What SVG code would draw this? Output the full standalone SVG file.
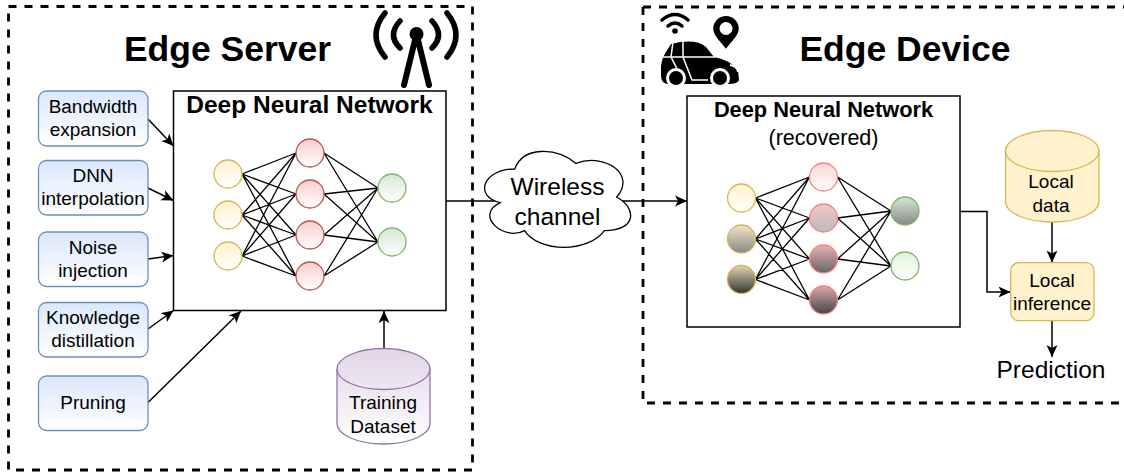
<svg xmlns="http://www.w3.org/2000/svg" width="1124" height="472" viewBox="0 0 1124 472">
<style>
text{font-family:"Liberation Sans",Arial,sans-serif;fill:#000;text-anchor:middle}
.t18{font-size:19px}.t24{font-size:24.500px}.h{font-size:35.500px;font-weight:bold}
.frame{fill:none;stroke:#000;stroke-width:2.800;stroke-dasharray:8 8}
.dnn{fill:#fff;stroke:#000;stroke-width:1.500}
.blue{fill:url(#gB);stroke:#6c8ebf;stroke-width:1.300}
.y{fill:url(#gY);stroke:#d6b656;stroke-width:1.300}
.r{fill:url(#gR);stroke:#b85450;stroke-width:1.300}
.g{fill:url(#gG);stroke:#82b366;stroke-width:1.300}
.e{fill:none;stroke:#000;stroke-width:1.300}
.c{fill:none;stroke:#000;stroke-width:1.500}
.a{marker-end:url(#arrow)}
.rr{stroke:#ff8080;stroke-width:1.300}
.yy{stroke:#d6b656;stroke-width:1.300}
.gg{stroke:#82b366;stroke-width:1.300}
</style>
<defs>
<marker id="arrow" markerUnits="userSpaceOnUse" markerWidth="13" markerHeight="12" refX="12" refY="6" orient="auto"><path d="M12 6L0 .5L3 6L0 11.500Z" fill="#000"/></marker>
<linearGradient id="gB" x1="0" y1="0" x2="0" y2="1"><stop offset="0" stop-color="#dae8fc"/><stop offset="1" stop-color="#fff"/></linearGradient>
<linearGradient id="gY" x1="0" y1="0" x2="0" y2="1"><stop offset="0" stop-color="#fff2cc"/><stop offset="1" stop-color="#fff"/></linearGradient>
<linearGradient id="gR" x1="0" y1="0" x2="0" y2="1"><stop offset="0" stop-color="#f8cecc"/><stop offset="1" stop-color="#fff"/></linearGradient>
<linearGradient id="gG" x1="0" y1="0" x2="0" y2="1"><stop offset="0" stop-color="#d5e8d4"/><stop offset="1" stop-color="#fff"/></linearGradient>
<linearGradient id="gP" x1="0" y1="0" x2="0" y2="1"><stop offset="0" stop-color="#e1d5e7"/><stop offset="1" stop-color="#fff"/></linearGradient>
<linearGradient id="y2" x1="0" y1="0" x2="0" y2="1"><stop offset="0" stop-color="#f0e6c2"/><stop offset="1" stop-color="#888"/></linearGradient>
<linearGradient id="y3" x1="0" y1="0" x2="0" y2="1"><stop offset="0" stop-color="#e0d6b0"/><stop offset="1" stop-color="#333"/></linearGradient>
<linearGradient id="r1" x1="0" y1="0" x2="0" y2="1"><stop offset="0" stop-color="#ffd6d6"/><stop offset="1" stop-color="#fff"/></linearGradient>
<linearGradient id="r2" x1="0" y1="0" x2="0" y2="1"><stop offset="0" stop-color="#f4c4c4"/><stop offset="1" stop-color="#bbb"/></linearGradient>
<linearGradient id="r3" x1="0" y1="0" x2="0" y2="1"><stop offset="0" stop-color="#e4b4b4"/><stop offset="1" stop-color="#666"/></linearGradient>
<linearGradient id="r4" x1="0" y1="0" x2="0" y2="1"><stop offset="0" stop-color="#dcaaaa"/><stop offset="1" stop-color="#444"/></linearGradient>
<linearGradient id="g1" x1="0" y1="0" x2="0" y2="1"><stop offset="0" stop-color="#d5e8d4"/><stop offset="1" stop-color="#888"/></linearGradient>
<linearGradient id="g2" x1="0" y1="0" x2="0" y2="1"><stop offset="0" stop-color="#e0f5df"/><stop offset="1" stop-color="#fff"/></linearGradient>
</defs>
<g id="edge-server-frame"><path class="frame" d="M8.500 6.500H472.500V470H8.500Z"/><text class="h" x="227.500" y="60.500">Edge Server</text></g>
<g id="edge-device-frame"><path class="frame" d="M643 7H1124M643 7V403H1124"/><text class="h" x="905" y="60.500">Edge Device</text></g>
<g id="antenna"><circle cx="416.500" cy="34" r="7"/><path d="M416 36L404 85M417 36L429 85" fill="none" stroke="#000" stroke-width="6" stroke-linecap="round"/><path d="M385 13Q367 35 385 57M400 21Q387 35 400 48M447 13Q465 35 447 57M432 21Q445 35 432 48" fill="none" stroke="#000" stroke-width="5.500" stroke-linecap="round"/></g>
<g id="car-icon">
<path d="M662 20Q675 9 688 20M668 26Q675 20 682 26" fill="none" stroke="#000" stroke-width="3.500" stroke-linecap="round"/><circle cx="675" cy="31" r="2.800"/>
<path d="M726 16a12.800 12.800 0 0 1 12.800 12.800c0 7-8 13-12.800 20c-5-7-12.800-13-12.800-20a12.800 12.800 0 0 1 12.800-12.800z"/><circle cx="726" cy="28.500" r="6.500" fill="#fff"/>
<path d="M671 44Q695 38 706 47L714 57Q730 60 738 70L739 80Q738 84 728 84H668Q661 83 661 76V66Q662 58 666 52Z"/>
<path d="M673 42L671 57L684 82M683 40V57L692 80H708M662 57H715" fill="none" stroke="#fff" stroke-width="1.500"/>
<circle cx="676" cy="78" r="10" fill="#fff"/><circle cx="676" cy="78" r="7"/><circle cx="720" cy="78" r="10" fill="#fff"/><circle cx="720" cy="78" r="7"/>
<path d="M730 65Q737 66 738 72" fill="none" stroke="#fff" stroke-width="1.800"/>
</g>
<g id="connectors">
<path class="c" d="M446 201H500"/>
<path class="c a" d="M620 201H687"/>
<path class="c a" d="M148 119L173.500 146"/>
<path class="c a" d="M148 188L173.500 200.500"/>
<path class="c a" d="M148 259L173.500 255.500"/>
<path class="c a" d="M148 329L173.500 310.500"/>
<path class="c a" d="M148 402.500L241 311"/>
<path class="c a" d="M384 348V311"/>
<path class="c a" d="M1052 222V262.500"/>
<path class="c a" d="M1052 321V357"/>
<path class="c a" d="M960 211.500H987V292H1010.500"/>
</g>
<g id="dnn-server"><rect class="dnn" x="173.500" y="91" width="272.500" height="219.500"/><text x="309.500" y="113" font-size="24.500" font-weight="bold">Deep Neural Network</text></g>
<g id="dnn-server-net">
<path class="e" d="M242 174L296 153M242 174L296 194M242 174L296 235M242 174L296 276M242 215L296 153M242 215L296 194M242 215L296 235M242 215L296 276M242 256L296 153M242 256L296 194M242 256L296 235M242 256L296 276M324 153L378 188M324 153L378 242M324 194L378 188M324 194L378 242M324 235L378 188M324 235L378 242M324 276L378 188M324 276L378 242"/>
<circle class="y" cx="228" cy="174" r="14"/><circle class="y" cx="228" cy="215" r="14"/><circle class="y" cx="228" cy="256" r="14"/>
<circle class="r" cx="310" cy="153" r="14"/><circle class="r" cx="310" cy="194" r="14"/><circle class="r" cx="310" cy="235" r="14"/><circle class="r" cx="310" cy="276" r="14"/>
<circle class="g" cx="392" cy="188" r="14"/><circle class="g" cx="392" cy="242" r="14"/>
</g>
<g id="bandwidth"><rect class="blue" x="38.500" y="91" width="109.500" height="55" rx="8"/><text class="t18" x="93" y="113">Bandwidth</text><text class="t18" x="93" y="136">expansion</text></g>
<g id="interpolation"><rect class="blue" x="38.500" y="160.500" width="109.500" height="54.500" rx="8"/><text class="t18" x="93" y="182">DNN</text><text class="t18" x="93" y="205">interpolation</text></g>
<g id="noise"><rect class="blue" x="38.500" y="232" width="109.500" height="54.500" rx="8"/><text class="t18" x="93" y="254">Noise</text><text class="t18" x="93" y="277">injection</text></g>
<g id="distillation"><rect class="blue" x="38.500" y="302.500" width="109.500" height="54.500" rx="8"/><text class="t18" x="93" y="324">Knowledge</text><text class="t18" x="93" y="347">distillation</text></g>
<g id="pruning"><rect class="blue" x="38.500" y="376" width="109.500" height="54.500" rx="8"/><text class="t18" x="93" y="409">Pruning</text></g>
<g id="training-dataset"><path d="M337 369a46.500 20.500 0 0 1 93 0V423.500a46.500 20.500 0 0 1-93 0Z" fill="url(#gP)" stroke="#9673a6" stroke-width="1.300"/><path d="M337 369a46.500 20.500 0 0 0 93 0" fill="none" stroke="#9673a6" stroke-width="1.300"/><text class="t18" x="383" y="409">Training</text><text class="t18" x="383" y="433">Dataset</text></g>
<g id="wireless-channel"><path d="M514.750 169C482.150 169 474 197 500.080 202.600C474 214.920 503.340 241.800 524.530 230.600C539.200 253 588.100 253 604.400 230.600C637 230.600 637 208.200 616.630 197C637 174.600 604.400 152.200 575.880 163.400C555.500 146.600 522.900 146.600 514.750 169Z" fill="#fff" stroke="#000" stroke-width="1.300"/><text class="t24" x="557.500" y="195">Wireless</text><text class="t24" x="557.500" y="225">channel</text></g>
<g id="dnn-device"><rect class="dnn" x="687" y="96" width="273" height="231"/><text x="823.500" y="117" font-size="21.800" font-weight="bold">Deep Neural Network</text><text x="823.500" y="145" font-size="21.500">(recovered)</text></g>
<g id="dnn-device-net">
<path class="e" d="M755.500 198L809.500 177M755.500 198L809.500 218M755.500 198L809.500 259M755.500 198L809.500 300M755.500 239L809.500 177M755.500 239L809.500 218M755.500 239L809.500 259M755.500 239L809.500 300M755.500 279.500L809.500 177M755.500 279.500L809.500 218M755.500 279.500L809.500 259M755.500 279.500L809.500 300M837.500 177L891 211M837.500 177L891 266M837.500 218L891 211M837.500 218L891 266M837.500 259L891 211M837.500 259L891 266M837.500 300L891 211M837.500 300L891 266"/>
<circle class="yy" fill="url(#gY)" cx="741.500" cy="198" r="14"/><circle class="yy" fill="url(#y2)" cx="741.500" cy="239" r="14"/><circle class="yy" fill="url(#y3)" cx="741.500" cy="279.500" r="14"/>
<circle class="rr" fill="url(#r1)" cx="823.500" cy="177" r="14"/><circle class="rr" fill="url(#r2)" cx="823.500" cy="218" r="14"/><circle class="rr" fill="url(#r3)" cx="823.500" cy="259" r="14"/><circle class="rr" fill="url(#r4)" cx="823.500" cy="300" r="14"/>
<circle class="gg" fill="url(#g1)" cx="905" cy="211" r="14"/><circle class="gg" fill="url(#g2)" cx="905" cy="266" r="14"/>
</g>
<g id="local-data"><path d="M1005.500 151a46.750 20.500 0 0 1 93.500 0V201.500a46.750 20.500 0 0 1-93.500 0Z" fill="#fff2cc" stroke="#d6b656" stroke-width="1.300"/><path d="M1005.500 151a46.750 20.500 0 0 0 93.500 0" fill="none" stroke="#d6b656" stroke-width="1.300"/><text class="t18" x="1051" y="188">Local</text><text class="t18" x="1051" y="212">data</text></g>
<g id="local-inference"><rect x="1010.700" y="262.700" width="83.300" height="58" rx="8" fill="#fff2cc" stroke="#d6b656" stroke-width="1.300"/><text class="t18" x="1052" y="287">Local</text><text class="t18" x="1052" y="310">inference</text></g>
<g id="prediction"><text class="t24" x="1051" y="378">Prediction</text></g>
</svg>
